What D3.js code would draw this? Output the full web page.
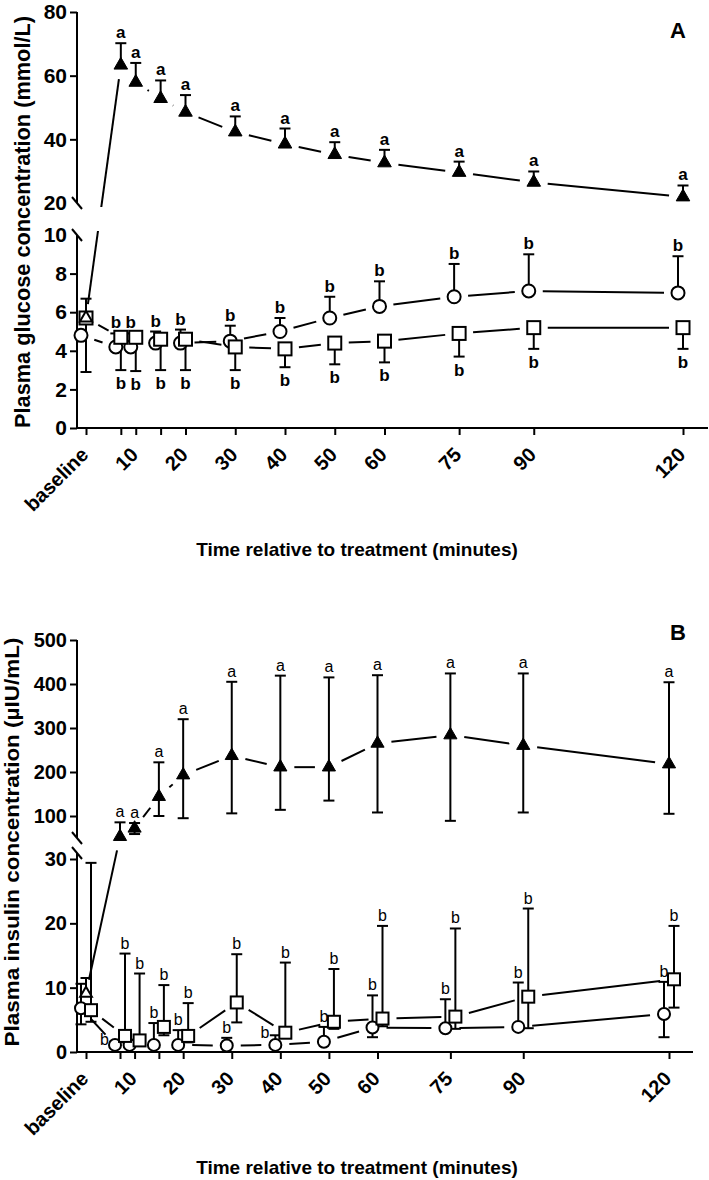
<!DOCTYPE html>
<html>
<head>
<meta charset="utf-8">
<script src="https://cdn.jsdelivr.net/npm/d3@7"></script>
<style>
  body { margin: 0; background: #fff; }
  svg { display: block; }
</style>
</head>
<body>
<div id="chart"></div>
<script>
// Time points (minutes) and x tick labels
const TIMES = [0, 7, 10, 15, 20, 30, 40, 50, 60, 75, 90, 120];
const TICK_LABELS = ['baseline', '', '10', '', '20', '30', '40', '50', '60', '75', '90', '120'];

// Panel A: plasma glucose (mmol/L)
const GLU_TRI      = [5.7, 63.3, 57.9, 52.8, 48.5, 42.3, 38.5, 35.2, 32.6, 29.6, 26.5, 21.9];
const GLU_TRI_HI   = [6.7, 70.2, 64.0, 58.5, 53.9, 47.2, 43.4, 39.1, 36.7, 33.0, 29.9, 25.5];
const GLU_CIRC     = [4.8, 4.2, 4.2, 4.4, 4.4, 4.5, 5.0, 5.7, 6.3, 6.8, 7.1, 7.0];
const GLU_CIRC_HI  = [null, 4.9, 4.9, 5.0, 5.1, 5.3, 5.7, 6.8, 7.6, 8.5, 9.0, 8.9];
const GLU_SQ       = [5.7, 4.7, 4.7, 4.6, 4.6, 4.2, 4.1, 4.4, 4.5, 4.9, 5.2, 5.2];
const GLU_SQ_LO    = [2.9, 3.0, 2.95, 3.0, 3.0, 3.0, 3.15, 3.3, 3.4, 3.7, 4.1, 4.1];
const GLU_TRI_LBL  = ['', 'a', 'a', 'a', 'a', 'a', 'a', 'a', 'a', 'a', 'a', 'a'];
const GLU_CIRC_LBL = ['', 'b', 'b', 'b', 'b', 'b', 'b', 'b', 'b', 'b', 'b', 'b'];
const GLU_SQ_LBL   = ['', 'b', 'b', 'b', 'b', 'b', 'b', 'b', 'b', 'b', 'b', 'b'];

// Panel B: plasma insulin (µIU/mL)
const INS_TRI      = [9.1, 53, 72, 144, 193, 237, 211, 211, 265, 284, 260, 218];
const INS_TRI_HI   = [11.5, 85.6, 84, 222, 320, 405, 419, 415, 420, 424, 424, 404];
const INS_TRI_LO   = [null, null, 59, 100, 95, 106, 114, 135, 108, 89, 108, 105];
const INS_CIRC     = [6.8, 1.1, 1.1, 1.1, 1.1, 1.0, 1.1, 1.6, 3.8, 3.7, 3.9, 5.9];
const INS_CIRC_HI  = [10.6, 1.6, 1.6, 4.5, 3.4, 2.2, 2.6, 3.9, 8.8, 8.2, 10.8, 10.9];
const INS_CIRC_LO  = [4.3, null, null, null, null, null, null, null, 2.3, null, null, 2.3];
const INS_SQ       = [6.5, 2.5, 1.8, 3.9, 2.5, 7.7, 3.0, 4.7, 5.2, 5.5, 8.6, 11.3];
const INS_SQ_HI    = [29.4, 15.3, 12.2, 10.4, 7.6, 15.2, 13.9, 12.9, 19.6, 19.2, 22.3, 19.6];
const INS_SQ_LO    = [4.7, 1.5, 1.2, 2.6, 1.5, 4.6, 2.2, 3.6, 4.0, 3.6, 3.7, 6.9];
const INS_TRI_LBL  = ['', 'a', 'a', 'a', 'a', 'a', 'a', 'a', 'a', 'a', 'a', 'a'];
const INS_CIRC_LBL = ['', 'b', '', 'b', 'b', 'b', 'b', 'b', 'b', 'b', 'b', 'b'];
const INS_CIRC_SIDE = ['', 'left', '', 'top', 'top', 'top', 'left', 'top', 'top', 'top', 'top', 'top'];
const INS_SQ_LBL   = ['', 'b', 'b', 'b', 'b', 'b', 'b', 'b', 'b', 'b', 'b', 'b'];

const FONT = '"Liberation Sans", Arial, Helvetica, sans-serif';
const W = 709, H = 1180;

const svg = d3.select('#chart').append('svg')
  .attr('width', W).attr('height', H)
  .attr('font-family', FONT);
const defs = svg.append('defs');

const PANEL_A = {
  id: 'A', letter: 'A', letterY: 38,
  xRange: [86, 683], axisX: 77, axisY: 428, axisRight: 708,
  upDomain: [20, 80], upRange: [203, 12], upTicks: [20, 40, 60, 80],
  loDomain: [0, 10], loRange: [428, 235], loTop: 235, loTicks: [0, 2, 4, 6, 8, 10],
  noTickLine: [20, 10],
  clip: { up: [0, 207], lo: [231, 445] },
  gap: 14, tickFont: 21, lblFont: 17, lblWeight: 'bold',
  r: 6.5, sq: 13, tri: 80,
  yTitle: 'Plasma glucose concentration (mmol/L)', yTitleX: 30, yTitleY: 222, yTitleFont: 22, yTitleLen: 412,
  xTitleY: 556,
};

const PANEL_B = {
  id: 'B', letter: 'B', letterY: 640,
  xRange: [86, 669], axisX: 77, axisY: 1052, axisRight: 693,
  upDomain: [50, 500], upRange: [838, 640], upTicks: [100, 200, 300, 400, 500],
  loDomain: [0, 30], loRange: [1052, 859], loTop: 853, loTicks: [0, 10, 20, 30],
  noTickLine: [],
  clip: { up: [560, 842], lo: [850, 1065] },
  gap: 14, tickFont: 20, lblFont: 16, lblWeight: 'normal',
  r: 6, sq: 12, tri: 75,
  yTitle: 'Plasma insulin concentration (\u00b5IU/mL)', yTitleX: 19, yTitleY: 842, yTitleFont: 21, yTitleLen: 409,
  xTitleY: 1174,
};

function drawPanel(cfg, series) {
  const x = d3.scaleLinear().domain([0, 120]).range(cfg.xRange);
  const yUp = d3.scaleLinear().domain(cfg.upDomain).range(cfg.upRange);
  const yLo = d3.scaleLinear().domain(cfg.loDomain).range(cfg.loRange);
  const yGap = d3.scaleLinear().domain([cfg.loDomain[1], cfg.upDomain[0]]).range([cfg.loRange[1], cfg.upRange[0]]);
  const y = v => v >= cfg.upDomain[0] ? yUp(v) : (v <= cfg.loDomain[1] ? yLo(v) : yGap(v));

  const g = svg.append('g');

  // clip areas for the two y segments
  ['up', 'lo'].forEach(k => {
    defs.append('clipPath').attr('id', `clip${cfg.id}${k}`)
      .append('rect')
      .attr('x', 0).attr('width', W)
      .attr('y', cfg.clip[k][0]).attr('height', cfg.clip[k][1] - cfg.clip[k][0]);
  });

  // ---- y axes (two segments) ----
  [[yUp, cfg.upTicks], [yLo, cfg.loTicks]].forEach(([sc, ticks]) => {
    const ax = g.append('g')
      .attr('transform', `translate(${cfg.axisX},0)`)
      .call(d3.axisLeft(sc).tickValues(ticks).tickSize(7).tickSizeOuter(0).tickPadding(3));
    ax.select('.domain').remove();
    ax.selectAll('.tick line').attr('stroke', '#000').attr('stroke-width', 2)
      .filter(d => cfg.noTickLine.includes(d)).remove();
    ax.selectAll('.tick text')
      .attr('font-size', cfg.tickFont).attr('font-weight', 'bold')
      .attr('font-family', FONT).attr('fill', '#000');
  });
  const axisLine = (x1, y1, x2, y2) => g.append('line')
    .attr('x1', x1).attr('y1', y1).attr('x2', x2).attr('y2', y2)
    .attr('stroke', '#000').attr('stroke-width', 2);
  axisLine(cfg.axisX, cfg.upRange[1], cfg.axisX, cfg.upRange[0]);
  axisLine(cfg.axisX, cfg.loTop, cfg.axisX, cfg.axisY + 1);
  // break marks
  [cfg.upRange[0], cfg.loTop].forEach(yy => axisLine(cfg.axisX - 5, yy - 6, cfg.axisX + 5, yy + 6));

  // ---- x axis ----
  const xa = g.append('g')
    .attr('transform', `translate(0,${cfg.axisY})`)
    .call(d3.axisBottom(x).tickValues(TIMES)
      .tickFormat((d, i) => TICK_LABELS[i]).tickSize(7).tickSizeOuter(0));
  xa.select('.domain').remove();
  xa.selectAll('.tick line').attr('stroke', '#000').attr('stroke-width', 2);
  xa.selectAll('.tick text')
    .attr('x', 0).attr('y', 0).attr('dy', 0)
    .attr('text-anchor', 'end')
    .attr('transform', 'translate(3,28) rotate(-45)')
    .attr('font-size', 20).attr('font-weight', 'bold')
    .attr('font-family', FONT).attr('fill', '#000');
  axisLine(cfg.axisX - 1, cfg.axisY, cfg.axisRight, cfg.axisY);

  // ---- titles ----
  g.append('text')
    .attr('transform', `translate(${cfg.yTitleX},${cfg.yTitleY}) rotate(-90)`)
    .attr('text-anchor', 'middle')
    .attr('font-size', cfg.yTitleFont).attr('font-weight', 'bold')
    .attr('textLength', cfg.yTitleLen).attr('lengthAdjust', 'spacingAndGlyphs')
    .text(cfg.yTitle);
  g.append('text')
    .attr('x', 357).attr('y', cfg.xTitleY)
    .attr('text-anchor', 'middle')
    .attr('font-size', 19).attr('font-weight', 'bold')
    .text('Time relative to treatment (minutes)');
  g.append('text')
    .attr('x', 678).attr('y', cfg.letterY)
    .attr('text-anchor', 'middle')
    .attr('font-size', 22).attr('font-weight', 'bold')
    .text(cfg.letter);

  // ---- lines + error bars, clipped to each segment ----
  ['up', 'lo'].forEach(k => {
    const cg = svg.append('g').attr('clip-path', `url(#clip${cfg.id}${k})`);
    series.forEach(s => {
      const pts = TIMES.map((t, i) => [x(t) + s.dx, y(s.vals[i])]);
      for (let i = 0; i < pts.length - 1; i++) {
        const [x1, y1] = pts[i], [x2, y2] = pts[i + 1];
        const len = Math.hypot(x2 - x1, y2 - y1);
        if (len <= 2 * cfg.gap) continue;
        const ux = (x2 - x1) / len, uy = (y2 - y1) / len;
        cg.append('line')
          .attr('x1', x1 + ux * cfg.gap).attr('y1', y1 + uy * cfg.gap)
          .attr('x2', x2 - ux * cfg.gap).attr('y2', y2 - uy * cfg.gap)
          .attr('stroke', '#000').attr('stroke-width', 2);
      }
      TIMES.forEach((t, i) => {
        [s.hi, s.lo].forEach(arr => {
          if (!arr || arr[i] == null) return;
          const px = x(t) + s.dx, yv = y(s.vals[i]), ye = y(arr[i]);
          cg.append('line').attr('x1', px).attr('x2', px).attr('y1', yv).attr('y2', ye)
            .attr('stroke', '#000').attr('stroke-width', 2);
          cg.append('line').attr('x1', px - 5.5).attr('x2', px + 5.5).attr('y1', ye).attr('y2', ye)
            .attr('stroke', '#000').attr('stroke-width', 2);
        });
      });
    });
  });

  // ---- markers ----
  const mg = svg.append('g');
  series.forEach(s => {
    TIMES.forEach((t, i) => {
      const px = x(t) + s.dx, py = y(s.vals[i]);
      if (s.shape === 'circle') {
        mg.append('circle').attr('cx', px).attr('cy', py).attr('r', cfg.r)
          .attr('fill', '#fff').attr('stroke', '#000').attr('stroke-width', 2);
      } else if (s.shape === 'square') {
        mg.append('rect').attr('x', px - cfg.sq / 2).attr('y', py - cfg.sq / 2)
          .attr('width', cfg.sq).attr('height', cfg.sq)
          .attr('fill', '#fff').attr('stroke', '#000').attr('stroke-width', 2);
      } else {
        const open = i === 0;
        mg.append('path')
          .attr('d', d3.symbol(d3.symbolTriangle, open ? cfg.tri * 0.8 : cfg.tri)())
          .attr('transform', `translate(${px},${py})`)
          .attr('fill', open ? '#fff' : '#000')
          .attr('stroke', '#000').attr('stroke-width', open ? 2 : 1);
      }
    });
  });

  // ---- significance letters ----
  series.forEach(s => {
    TIMES.forEach((t, i) => {
      const txt = s.labels[i];
      if (!txt) return;
      const px = x(t) + s.dx;
      const side = s.side ? s.side[i] : (s.labelAt === 'lo' ? 'bottom' : 'top');
      const ref = s.labelAt === 'lo' ? s.lo[i] : (s.hi[i] != null ? s.hi[i] : s.vals[i]);
      const ye = y(ref);
      const t2 = mg.append('text')
        .attr('font-size', cfg.lblFont).attr('font-weight', cfg.lblWeight)
        .text(txt);
      if (side === 'bottom') {
        t2.attr('x', px).attr('y', ye + 19).attr('text-anchor', 'middle');
      } else if (side === 'left') {
        t2.attr('x', px - 6).attr('y', ye + 3).attr('text-anchor', 'end');
      } else {
        t2.attr('x', px).attr('y', ye - 5).attr('text-anchor', 'middle');
      }
    });
  });
}

drawPanel(PANEL_A, [
  { shape: 'circle', dx: -5, vals: GLU_CIRC, hi: GLU_CIRC_HI, lo: null, labels: GLU_CIRC_LBL, labelAt: 'hi' },
  { shape: 'square', dx: 0, vals: GLU_SQ, hi: null, lo: GLU_SQ_LO, labels: GLU_SQ_LBL, labelAt: 'lo' },
  { shape: 'triangle', dx: 0, vals: GLU_TRI, hi: GLU_TRI_HI, lo: null, labels: GLU_TRI_LBL, labelAt: 'hi' },
]);

drawPanel(PANEL_B, [
  { shape: 'circle', dx: -5, vals: INS_CIRC, hi: INS_CIRC_HI, lo: INS_CIRC_LO, labels: INS_CIRC_LBL, side: INS_CIRC_SIDE, labelAt: 'hi' },
  { shape: 'square', dx: 5, vals: INS_SQ, hi: INS_SQ_HI, lo: INS_SQ_LO, labels: INS_SQ_LBL, labelAt: 'hi' },
  { shape: 'triangle', dx: 0, vals: INS_TRI, hi: INS_TRI_HI, lo: INS_TRI_LO, labels: INS_TRI_LBL, labelAt: 'hi' },
]);
</script>
</body>
</html>
